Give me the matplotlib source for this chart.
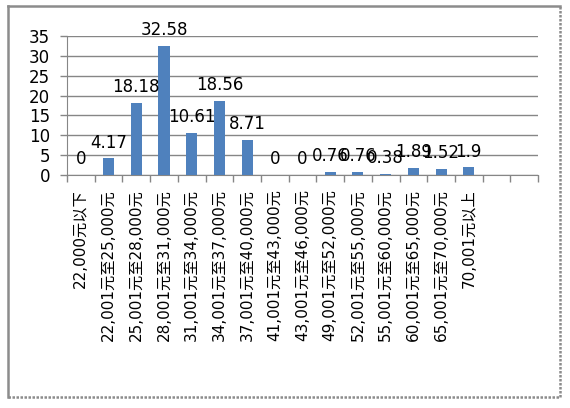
import matplotlib
matplotlib.use("Agg")
import matplotlib.pyplot as plt
from matplotlib.lines import Line2D

plt.rcParams["font.family"] = ["DejaVu Sans", "Noto Sans CJK SC"]

categories = [
    "22,000元以下",
    "22,001元至25,000元",
    "25,001元至28,000元",
    "28,001元至31,000元",
    "31,001元至34,000元",
    "34,001元至37,000元",
    "37,001元至40,000元",
    "41,001元至43,000元",
    "43,001元至46,000元",
    "49,001元至52,000元",
    "52,001元至55,000元",
    "55,001元至60,000元",
    "60,001元至65,000元",
    "65,001元至70,000元",
    "70,001元以上",
    "",
    "",
]
values = [0, 4.17, 18.18, 32.58, 10.61, 18.56, 8.71, 0, 0,
          0.76, 0.76, 0.38, 1.89, 1.52, 1.9]
labels = ["0", "4.17", "18.18", "32.58", "10.61", "18.56", "8.71", "0", "0",
          "0.76", "0.76", "0.38", "1.89", "1.52", "1.9"]
y_ticks = [0, 5, 10, 15, 20, 25, 30, 35]

fig = plt.figure(figsize=(5.70, 4.08), dpi=100)
ax = fig.add_axes([0.1175, 0.571, 0.8265, 0.341])

# chart border: solid left/top, dotted right/bottom
W, H = 570, 408
x0, x1, y0, y1 = 8 / W, 560 / W, 1 - 397 / H, 1 - 6 / H
for xs, ys, ls in [((x0, x0), (y0, y1), "-"), ((x0, x1), (y1, y1), "-"),
                   ((x1, x1), (y0, y1), (0, (1, 0.6))),
                   ((x0, x1), (y0, y0), (0, (1, 0.6)))]:
    fig.add_artist(Line2D(xs, ys, transform=fig.transFigure,
                          color="#8c8c8c", linewidth=1.8, linestyle=ls))

x = list(range(len(categories)))
ax.bar(x[:len(values)], values, width=0.4, color="#4f81bd", zorder=3)
for xi, v, lab in zip(x, values, labels):
    ax.annotate(lab, (xi, v), xytext=(0, 5), textcoords="offset points",
                ha="center", va="bottom", fontsize=12, zorder=4)

ax.set_xlim(-0.5, len(categories) - 0.5)
ax.set_ylim(0, 35)
ax.set_yticks(y_ticks)
ax.tick_params(axis="y", labelsize=12, length=5, color="#868686", width=1, pad=7)
ax.yaxis.grid(True, color="#868686", linewidth=1)
ax.set_axisbelow(True)

ax.set_xticks(x)
ax.set_xticklabels(categories, rotation=90, fontsize=11)
ax.set_xticks([i - 0.5 for i in range(len(categories) + 1)], minor=True)
ax.tick_params(axis="x", which="major", length=0, pad=10)
ax.tick_params(axis="x", which="minor", length=5, color="#868686", width=1)

for side in ["top", "right"]:
    ax.spines[side].set_visible(False)
ax.spines["left"].set_color("#868686")
ax.spines["bottom"].set_color("#868686")

fig.savefig("out.png", dpi=100)
